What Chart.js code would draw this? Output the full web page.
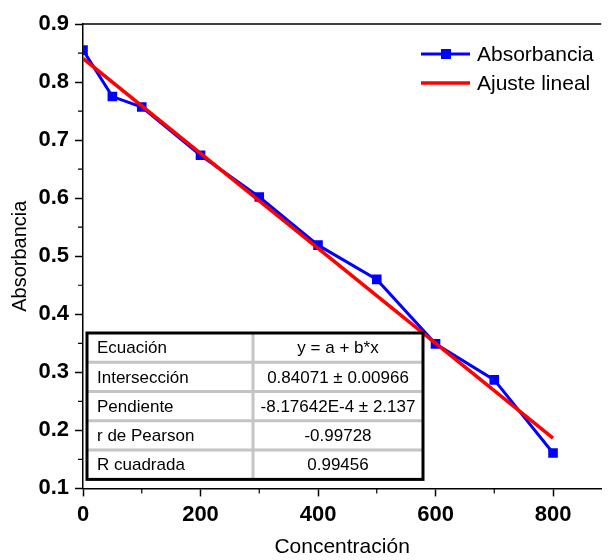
<!DOCTYPE html>
<html>
<head>
<meta charset="utf-8">
<script src="https://cdn.jsdelivr.net/npm/chart.js@4.4.1/dist/chart.umd.min.js"></script>
<style>
  html, body { margin: 0; padding: 0; background: #fff; }
  #wrap { width: 608px; height: 560px; }
</style>
</head>
<body>
<div id="wrap"><canvas id="grafica"></canvas></div>
<script>
// datos
const concentracion = [0, 50, 100, 200, 300, 400, 500, 600, 700, 800];
const absorbancia = [0.855, 0.775, 0.757, 0.674, 0.602, 0.519, 0.460, 0.349, 0.287, 0.161];

// ajuste lineal (extremos)
const ajusteX = [0, 800];
const ajusteY = [0.8407, 0.1866];

const xTicks = [0, 200, 400, 600, 800];
const xTicksMenores = [100, 300, 500, 700];
const yTicks = [0.1, 0.2, 0.3, 0.4, 0.5, 0.6, 0.7, 0.8, 0.9];
const yTicksMenores = [0.15, 0.25, 0.35, 0.45, 0.55, 0.65, 0.75, 0.85];

const tablaEtiquetas = ['Ecuación', 'Intersección', 'Pendiente', 'r de Pearson', 'R cuadrada'];
const tablaValores = ['y = a + b*x', '0.84071 ± 0.00966', '-8.17642E-4 ± 2.137', '-0.99728', '0.99456'];

const FUENTE = '"Liberation Sans", Arial, sans-serif';

const extras = {
  id: 'extras',
  afterDraw(chart) {
    const ctx = chart.ctx;
    const area = chart.chartArea;
    const x = chart.scales.x;
    const y = chart.scales.y;
    ctx.save();

    // borde superior
    ctx.strokeStyle = '#000';
    ctx.lineWidth = 1.5;
    ctx.beginPath();
    ctx.moveTo(area.left, area.top);
    ctx.lineTo(area.right, area.top);
    ctx.stroke();

    // ticks menores
    ctx.lineWidth = 1.2;
    ctx.beginPath();
    yTicksMenores.forEach(v => {
      const py = y.getPixelForValue(v);
      ctx.moveTo(area.left - 5, py);
      ctx.lineTo(area.left, py);
    });
    xTicksMenores.forEach(v => {
      const px = x.getPixelForValue(v);
      ctx.moveTo(px, area.bottom);
      ctx.lineTo(px, area.bottom + 5);
    });
    ctx.stroke();

    // leyenda
    const ds = chart.data.datasets;
    const filas = [54, 83];
    ds.forEach((d, i) => {
      const ly = filas[i];
      ctx.strokeStyle = d.borderColor;
      ctx.lineWidth = d.borderWidth;
      ctx.beginPath();
      ctx.moveTo(421, ly);
      ctx.lineTo(470, ly);
      ctx.stroke();
      if (d.pointRadius > 0) {
        ctx.fillStyle = d.borderColor;
        ctx.fillRect(441, ly - 5, 10, 10);
      }
      ctx.fillStyle = '#000';
      ctx.font = '21px ' + FUENTE;
      ctx.textAlign = 'left';
      ctx.textBaseline = 'middle';
      ctx.fillText(d.label, 477, ly + 1);
    });

    // tabla de resultados
    const tx0 = area.left + 4, tx1 = area.left + 340;
    const ty0 = area.top + 309, ty1 = area.bottom - 9;
    const col = area.left + 170;
    const alto = (ty1 - ty0) / tablaEtiquetas.length;
    ctx.fillStyle = '#fff';
    ctx.fillRect(tx0, ty0, tx1 - tx0, ty1 - ty0);
    ctx.strokeStyle = '#c4c4c4';
    ctx.lineWidth = 3;
    ctx.beginPath();
    for (let i = 1; i < tablaEtiquetas.length; i++) {
      ctx.moveTo(tx0, ty0 + alto * i);
      ctx.lineTo(tx1, ty0 + alto * i);
    }
    ctx.moveTo(col, ty0);
    ctx.lineTo(col, ty1);
    ctx.stroke();
    ctx.strokeStyle = '#000';
    ctx.lineWidth = 3;
    ctx.strokeRect(tx0, ty0, tx1 - tx0, ty1 - ty0);

    ctx.fillStyle = '#000';
    ctx.font = '17px ' + FUENTE;
    ctx.textBaseline = 'middle';
    tablaEtiquetas.forEach((t, i) => {
      const cy = ty0 + alto * (i + 0.5) + 1;
      ctx.textAlign = 'left';
      ctx.fillText(t, tx0 + 10, cy);
      ctx.textAlign = 'center';
      ctx.fillText(tablaValores[i], (col + tx1) / 2, cy);
    });

    ctx.restore();
  }
};

new Chart(document.getElementById('grafica'), {
  type: 'line',
  data: {
    datasets: [
      {
        label: 'Absorbancia',
        data: concentracion.map((c, i) => ({ x: c, y: absorbancia[i] })),
        borderColor: '#0000ff',
        backgroundColor: '#0000ff',
        borderWidth: 3,
        pointStyle: 'rect',
        pointRadius: 6.8,
        pointBorderWidth: 0,
        tension: 0,
        order: 2
      },
      {
        label: 'Ajuste lineal',
        data: ajusteX.map((c, i) => ({ x: c, y: ajusteY[i] })),
        borderColor: '#ff0000',
        borderWidth: 3.5,
        pointRadius: 0,
        tension: 0,
        order: 1
      }
    ]
  },
  options: {
    responsive: true,
    maintainAspectRatio: false,
    animation: false,
    layout: { padding: { top: 24, left: 0, right: 0, bottom: 0 } },
    plugins: { legend: { display: false }, tooltip: { enabled: false } },
    scales: {
      x: {
        type: 'linear',
        min: 0,
        max: 882,
        afterBuildTicks: s => { s.ticks = xTicks.map(v => ({ value: v })); },
        grid: { drawOnChartArea: false, tickLength: 8, tickColor: '#000', tickWidth: 1.5 },
        border: { color: '#000', width: 1.5 },
        ticks: { color: '#000', padding: 5, maxRotation: 0, font: { family: FUENTE, size: 22, weight: 'bold' } },
        title: { display: true, text: 'Concentración', color: '#000', font: { family: FUENTE, size: 21 }, padding: { top: 2, bottom: 0 } }
      },
      y: {
        type: 'linear',
        min: 0.1,
        max: 0.9,
        afterBuildTicks: s => { s.ticks = yTicks.map(v => ({ value: v })); },
        afterFit: s => { s.width = 83; },
        grid: { drawOnChartArea: false, tickLength: 8, tickColor: '#000', tickWidth: 1.5 },
        border: { color: '#000', width: 1.5 },
        ticks: { color: '#000', padding: 6, callback: v => v.toFixed(1), font: { family: FUENTE, size: 22, weight: 'bold' } },
        title: { display: true, text: 'Absorbancia', color: '#000', font: { family: FUENTE, size: 20 }, padding: { top: 8, bottom: 0 } }
      }
    }
  },
  plugins: [extras]
});
</script>
</body>
</html>
